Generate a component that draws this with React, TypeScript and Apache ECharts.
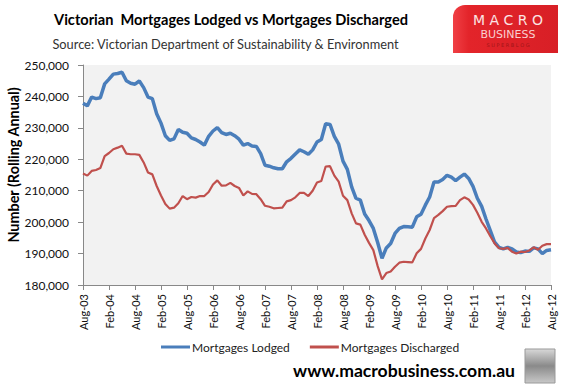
import React, { useEffect, useRef } from "react";
import * as echarts from "echarts";

const MONTHS = ["Jan", "Feb", "Mar", "Apr", "May", "Jun", "Jul", "Aug", "Sep", "Oct", "Nov", "Dec"];
// Monthly categories Aug-03 .. Aug-12
const categories: string[] = [];
for (let y = 2003; y <= 2012; y++) {
  for (let m = 0; m < 12; m++) {
    if ((y === 2003 && m < 7) || (y === 2012 && m > 7)) continue;
    categories.push(`${MONTHS[m]}-${String(y % 100).padStart(2, "0")}`);
  }
}

const yTicks = [180000, 190000, 200000, 210000, 220000, 230000, 240000, 250000];

// Mortgages Lodged (rolling annual, thousands)
const lodged = [
  237.8, 237.0, 239.8, 239.3, 239.6, 244.0, 245.5, 247.1, 247.3, 247.7,
  245.0, 244.2, 243.9, 244.9, 242.8, 239.8, 239.3, 234.5, 231.5, 227.5,
  226.0, 226.5, 229.5, 228.6, 228.3, 226.8, 226.3, 225.5, 224.5, 227.3,
  229.0, 230.1, 228.5, 227.9, 228.3, 227.5, 226.4, 224.5, 225.0, 224.2,
  224.1, 221.8, 218.1, 217.8, 217.3, 217.0, 217.0, 219.2, 220.3, 221.7,
  223.0, 222.4, 221.6, 223.0, 225.5, 226.3, 231.3, 231.1, 227.3, 224.8,
  219.4, 216.8, 211.2, 207.6, 207.0, 202.6, 200.5, 198.0, 193.5, 188.5,
  191.8, 193.2, 196.4, 198.0, 198.6, 198.5, 198.4, 201.7, 202.5, 205.4,
  208.0, 212.8, 212.8, 213.6, 214.9, 214.3, 213.2, 214.3, 215.3, 213.9,
  211.4, 207.6, 205.0, 201.0, 197.3, 193.6, 192.0, 191.5, 192.0, 191.5,
  190.5, 190.3, 190.8, 190.7, 191.8, 191.5, 190.0, 191.0, 191.2,
];

// Mortgages Discharged (rolling annual, thousands)
const discharged = [
  215.5, 214.8, 216.3, 216.6, 217.2, 221.0, 222.0, 223.2, 223.7, 224.3,
  221.8, 221.6, 221.6, 221.4, 219.0, 215.8, 215.2, 211.5, 208.5, 205.8,
  204.3, 204.6, 206.0, 208.3, 207.3, 208.0, 207.8, 208.3, 208.3, 209.6,
  212.0, 213.3, 211.6, 211.7, 212.5, 211.5, 210.9, 208.5, 209.8, 209.0,
  208.9, 207.3, 205.2, 204.9, 204.4, 204.5, 204.6, 206.6, 207.0, 207.9,
  209.3, 209.3, 208.3, 210.0, 212.6, 213.1, 217.7, 217.8, 214.8, 212.9,
  208.4, 207.0, 202.8, 199.6, 199.2, 196.0, 193.4, 191.1, 186.0, 181.8,
  183.8, 184.3, 185.8, 187.1, 187.4, 187.3, 187.2, 190.1, 191.5, 194.8,
  197.5, 201.3, 202.3, 203.5, 204.9, 205.1, 205.2, 207.0, 207.9, 207.2,
  205.5, 203.0, 200.1, 198.0, 195.5, 193.2, 191.7, 191.5, 191.8, 190.6,
  190.0, 190.6, 190.5, 191.0, 192.0, 191.2, 192.5, 193.0, 193.0,
];

const FONT = "Lato, 'Open Sans', sans-serif";
const LOGO_FONT = "'DejaVu Sans', sans-serif";

export default function App() {
  const ref = useRef<HTMLDivElement>(null);
  useEffect(() => {
    if (!ref.current) return;
    const chart = echarts.init(ref.current, undefined, { renderer: "svg" });
    chart.setOption({
      animation: false,
      backgroundColor: "#ffffff",
      textStyle: { fontFamily: FONT },
      grid: { left: 83, top: 65, right: 12, height: 220, backgroundColor: "#f2f2f2", show: true, borderWidth: 0 },
      legend: {
        left: 156,
        top: 336,
        icon: "rect",
        itemWidth: 29,
        itemHeight: 3,
        itemGap: 20,
        textStyle: { fontFamily: FONT, fontSize: 12, color: "#222", padding: [0, 0, 0, -3] },
        data: ["Mortgages Lodged", "Mortgages Discharged"],
      },
      xAxis: {
        type: "category",
        data: categories,
        boundaryGap: false,
        axisLine: { lineStyle: { color: "#888", width: 1 } },
        axisTick: { interval: 5, length: 5, lineStyle: { color: "#888" } },
        axisLabel: { interval: 5, rotate: 90, fontSize: 11, color: "#111", fontFamily: FONT, margin: 9 },
        splitLine: { show: false },
      },
      yAxis: {
        type: "value",
        min: yTicks[0],
        max: yTicks[yTicks.length - 1],
        interval: 10000,
        axisLine: { show: true, lineStyle: { color: "#888", width: 1 } },
        axisTick: { show: true, length: 5, lineStyle: { color: "#888" } },
        axisLabel: {
          fontSize: 12,
          color: "#111",
          fontFamily: FONT,
          margin: 14,
          formatter: (v: number) => v.toLocaleString("en-US"),
        },
        splitLine: { show: false },
      },
      series: [
        {
          name: "Mortgages Lodged",
          type: "line",
          symbol: "none",
          data: lodged.map((v) => v * 1000),
          lineStyle: { color: "#4a7ebb", width: 3.5 },
          itemStyle: { color: "#4a7ebb" },
        },
        {
          name: "Mortgages Discharged",
          type: "line",
          symbol: "none",
          data: discharged.map((v) => v * 1000),
          lineStyle: { color: "#c0504d", width: 2.2 },
          itemStyle: { color: "#c0504d" },
        },
      ],
      graphic: [
        {
          type: "text",
          x: 231,
          y: 19,
          style: {
            text: "Victorian  Mortgages Lodged vs Mortgages Discharged",
            fontFamily: FONT,
            fontWeight: "bold",
            fontSize: 14.6,
            fill: "#000",
            textAlign: "center",
            textVerticalAlign: "middle",
          },
        },
        {
          type: "text",
          x: 225.5,
          y: 44,
          style: {
            text: "Source: Victorian Department of Sustainability & Environment",
            fontFamily: FONT,
            fontSize: 12.8,
            fill: "#333",
            textAlign: "center",
            textVerticalAlign: "middle",
          },
        },
        {
          type: "group",
          x: 453,
          y: 5,
          children: [
            {
              type: "rect",
              shape: { x: 0, y: 0, width: 105, height: 48, r: [12, 0, 0, 0] },
              style: {
                fill: new echarts.graphic.LinearGradient(0, 0, 1, 0, [
                  { offset: 0, color: "#f04045" },
                  { offset: 0.15, color: "#e3242a" },
                  { offset: 1, color: "#d81f26" },
                ]),
              },
            },
            {
              type: "text",
              x: 55,
              y: 15,
              style: { text: "M A C R O", fontFamily: LOGO_FONT, fontSize: 14, fill: "#fbe4e4", textAlign: "center", textVerticalAlign: "middle" },
            },
            {
              type: "text",
              x: 55,
              y: 29,
              style: { text: "BUSINESS", fontFamily: LOGO_FONT, fontSize: 11, fill: "#f8d0d0", textAlign: "center", textVerticalAlign: "middle" },
            },
            {
              type: "text",
              x: 55,
              y: 40,
              style: { text: "S U P E R B L O G", fontFamily: LOGO_FONT, fontSize: 5, fill: "#a01518", textAlign: "center", textVerticalAlign: "middle" },
            },
          ],
        },
        {
          type: "text",
          x: 13,
          y: 165,
          rotation: Math.PI / 2,
          style: {
            text: "Number (Rolling Annual)",
            fontFamily: FONT,
            fontWeight: "bold",
            fontSize: 14.4,
            fill: "#000",
            textAlign: "center",
            textVerticalAlign: "middle",
          },
        },
        {
          type: "text",
          x: 515,
          y: 370,
          style: {
            text: "www.macrobusiness.com.au",
            fontFamily: FONT,
            fontWeight: "bold",
            fontSize: 17.6,
            fill: "#000",
            textAlign: "right",
            textVerticalAlign: "middle",
          },
        },
        {
          type: "rect",
          shape: { x: 525, y: 349, width: 30, height: 34 },
          style: {
            fill: new echarts.graphic.LinearGradient(0, 0, 0, 1, [
              { offset: 0, color: "#d8d8d8" },
              { offset: 0.5, color: "#8a8a8a" },
              { offset: 1, color: "#c8c8c8" },
            ]),
            stroke: "#999",
            lineWidth: 1,
          },
        },
      ],
    });
    return () => chart.dispose();
  }, []);
  return <div ref={ref} style={{ width: 563, height: 389, position: "absolute", left: 0, top: 0 }} />;
}
